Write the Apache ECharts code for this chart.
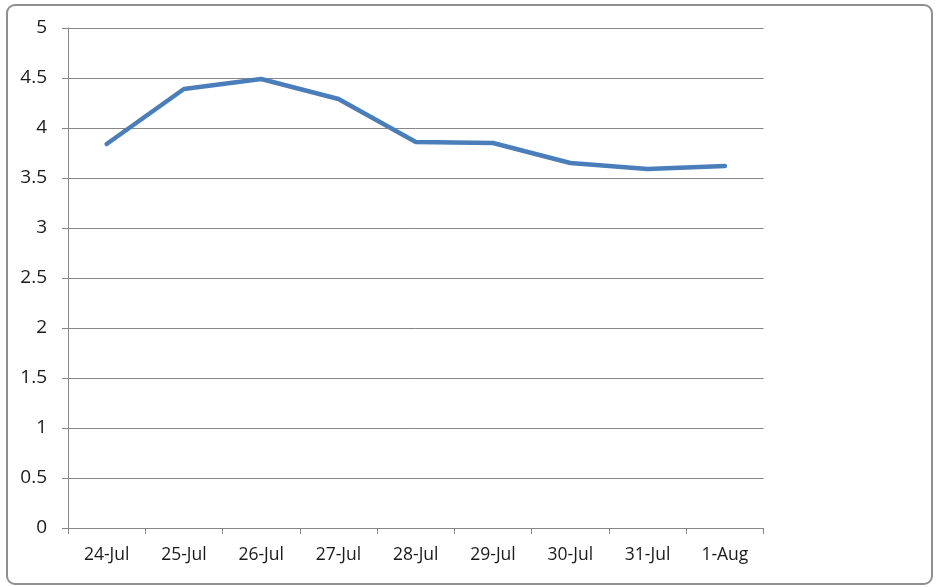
<!DOCTYPE html>
<html><head><meta charset="utf-8">
<script src="https://cdn.jsdelivr.net/npm/echarts@6/dist/echarts.min.js"></script>
<style>html,body{margin:0;padding:0;background:#fff}#c{width:940px;height:587px}</style>
</head><body><div id="c"></div>
<script>
const categories = ['24-Jul','25-Jul','26-Jul','27-Jul','28-Jul','29-Jul','30-Jul','31-Jul','1-Aug'];
const values = [3.84, 4.39, 4.49, 4.29, 3.86, 3.85, 3.65, 3.59, 3.62];
const yTicks = [0, 0.5, 1, 1.5, 2, 2.5, 3, 3.5, 4, 4.5, 5];

const chart = echarts.init(document.getElementById('c'), null, {renderer: 'canvas'});
const axisGray = '#878787';
const font = 'Open Sans, Liberation Sans, sans-serif';
chart.setOption({
  animation: false,
  backgroundColor: '#fff',
  graphic: [{
    type: 'rect', left: 6, top: 4, z: -10,
    shape: {width: 925, height: 579, r: 8},
    style: {fill: '#fff', stroke: '#8f8f8f', lineWidth: 2}
  }],
  grid: {left: 68, top: 28, right: 176.5, bottom: 59, containLabel: false},
  xAxis: {
    type: 'category', data: categories, boundaryGap: true,
    axisLine: {lineStyle: {color: axisGray, width: 1}},
    axisTick: {show: true, length: 6, lineStyle: {color: axisGray}, alignWithLabel: false},
    axisLabel: {color: '#1a1a1a', fontSize: 17.5, fontFamily: font, margin: 18, interval: 0},
    splitLine: {show: false}
  },
  yAxis: {
    type: 'value', min: 0, max: 5, interval: 0.5,
    axisLine: {show: true, lineStyle: {color: axisGray, width: 1}},
    axisTick: {show: true, length: 6, lineStyle: {color: axisGray}},
    axisLabel: {color: '#1a1a1a', fontSize: 19, fontFamily: font, margin: 21,
      formatter: v => yTicks.includes(v) ? String(v) : ''},
    splitLine: {show: true, lineStyle: {color: axisGray, width: 1}}
  },
  series: [{
    type: 'line', data: values, symbol: 'none',
    lineStyle: {color: '#4A7EBB', width: 4.5, cap: 'round', join: 'round'}
  }]
});
</script></body></html>
